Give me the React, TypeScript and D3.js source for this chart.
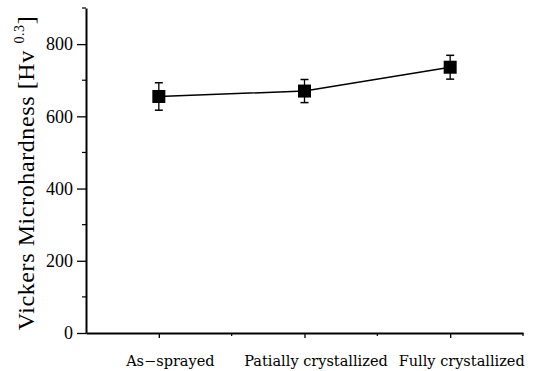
import { useEffect, useRef } from "react"
import * as d3 from "d3"

const categories = ["As\u2212sprayed", "Patially crystallized", "Fully crystallized"]
const hardness = [655, 670, 736]
const hardnessErr = [38, 32, 33]
const yTicks = [0, 200, 400, 600, 800]
const yMinorTicks = [100, 300, 500, 700, 900]

export default function App() {
  const svgRef = useRef<SVGSVGElement>(null)

  useEffect(() => {
    if (!svgRef.current) return
    const width = 533
    const height = 371
    const margin = { top: 8, right: 10, bottom: 38, left: 86 }
    const innerWidth = width - margin.left - margin.right
    const innerHeight = height - margin.top - margin.bottom

    const svg = d3.select(svgRef.current).attr("width", width).attr("height", height)
    svg.selectAll("*").remove()
    svg.append("rect").attr("width", width).attr("height", height).attr("fill", "#fff")

    const g = svg.append("g").attr("transform", `translate(${margin.left},${margin.top})`)

    const x = d3.scalePoint<string>().domain(categories).range([0, innerWidth]).padding(0.5)
    const y = d3.scaleLinear().domain([0, 900]).range([innerHeight, 0])

    const data = categories.map((c, i) => ({ c, v: hardness[i], e: hardnessErr[i] }))

    // y axis
    const yAxis = g.append("g")
    yAxis
      .call(d3.axisLeft(y).tickValues(yTicks).tickSize(9).tickPadding(4).tickSizeOuter(0))
      .attr("font-family", "'Liberation Serif', serif")
      .attr("font-size", "18px")
    yAxis.select(".domain").attr("stroke-width", 2)
    yAxis.selectAll(".tick line").attr("stroke-width", 1.3)
    yAxis.selectAll(".tick text").attr("fill", "#000")
    g.append("g")
      .selectAll("line")
      .data(yMinorTicks)
      .enter()
      .append("line")
      .attr("x1", -4)
      .attr("x2", 0)
      .attr("y1", (d) => y(d))
      .attr("y2", (d) => y(d))
      .attr("stroke", "#000")
      .attr("stroke-width", 1.2)

    // x axis
    const xAxis = g.append("g").attr("transform", `translate(0,${innerHeight})`)
    xAxis
      .call(d3.axisBottom(x).tickSize(5).tickSizeOuter(0))
      .attr("font-family", "'DejaVu Serif', serif")
      .attr("font-size", "14.5px")
    xAxis.select(".domain").attr("stroke-width", 2)
    xAxis.selectAll(".tick line").attr("stroke-width", 1.3)
    xAxis.selectAll(".tick text").attr("fill", "#000").attr("y", 33).attr("dy", 0).attr("dx", 11)
    const step = x.step()
    const minorX = [...categories.slice(0, -1).map((c) => (x(c) as number) + step / 2), innerWidth]
    xAxis
      .append("g")
      .selectAll("line")
      .data(minorX)
      .enter()
      .append("line")
      .attr("x1", (d) => d)
      .attr("x2", (d) => d)
      .attr("y1", 0)
      .attr("y2", 3)
      .attr("stroke", "#000")
      .attr("stroke-width", 1.2)

    // y label
    const label = svg
      .append("text")
      .attr("transform", `translate(34,173) rotate(-90)`)
      .attr("text-anchor", "middle")
      .attr("font-family", "'Liberation Serif', serif")
      .attr("font-size", "24px")
      .attr("letter-spacing", "0.6px")
      .attr("fill", "#000")
    label.append("tspan").text("Vickers Microhardness [Hv ")
    label.append("tspan").attr("font-size", "14px").attr("dy", -10).text("0.3")
    label.append("tspan").attr("dy", 10).text("]")

    // line
    const line = d3
      .line<{ c: string; v: number }>()
      .x((d) => x(d.c) as number)
      .y((d) => y(d.v))
    g.append("path").datum(data).attr("fill", "none").attr("stroke", "#000").attr("stroke-width", 1.5).attr("d", line)

    // error bars
    const cap = 4
    const eb = g.selectAll(".err").data(data).enter().append("g")
    eb.append("line")
      .attr("x1", (d) => x(d.c) as number)
      .attr("x2", (d) => x(d.c) as number)
      .attr("y1", (d) => y(d.v - d.e))
      .attr("y2", (d) => y(d.v + d.e))
      .attr("stroke", "#000")
      .attr("stroke-width", 1.3)
    ;[-1, 1].forEach((s) => {
      eb.append("line")
        .attr("x1", (d) => (x(d.c) as number) - cap)
        .attr("x2", (d) => (x(d.c) as number) + cap)
        .attr("y1", (d) => y(d.v + s * d.e))
        .attr("y2", (d) => y(d.v + s * d.e))
        .attr("stroke", "#000")
        .attr("stroke-width", 1.5)
    })

    // markers
    const sz = 13
    g.selectAll(".pt")
      .data(data)
      .enter()
      .append("rect")
      .attr("x", (d) => (x(d.c) as number) - sz / 2)
      .attr("y", (d) => y(d.v) - sz / 2)
      .attr("width", sz)
      .attr("height", sz)
      .attr("fill", "#000")
  }, [])

  return <svg ref={svgRef} style={{ position: "absolute", left: 0, top: 0 }} />
}
